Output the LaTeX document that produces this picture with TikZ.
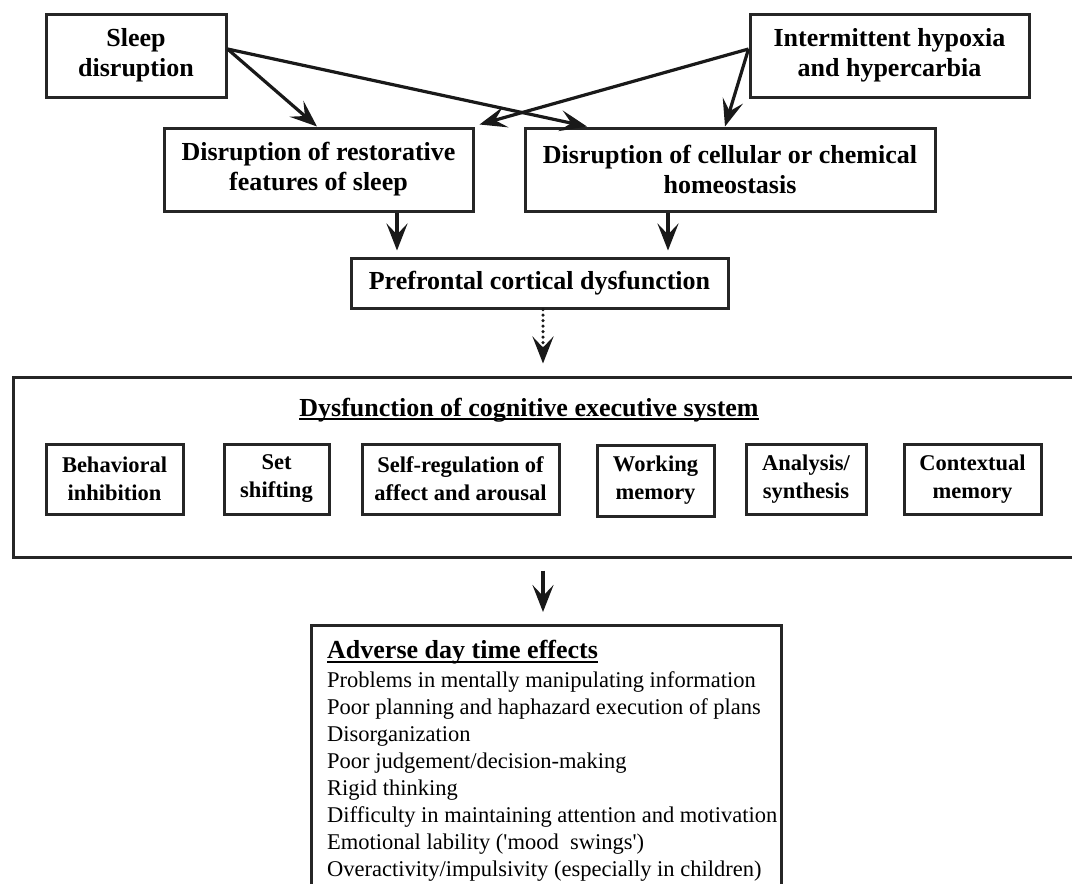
\documentclass[tikz,border=0pt]{standalone}
\usepackage{fontspec}
\setmainfont{Liberation Serif}
\usetikzlibrary{arrows.meta,calc}
\newcommand\myul[1]{\setbox0\hbox{#1}\rlap{\rule[-4pt]{\wd0}{1.8pt}}\box0}
\begin{document}
\begin{tikzpicture}[x=1pt,y=-1pt,
  box/.style={draw=black!85, line width=3pt, inner sep=0pt, align=center},
  topfont/.style={font=\fontsize{26}{30}\selectfont\bfseries},
  smallfont/.style={font=\fontsize{22.5}{28}\selectfont\bfseries},
  arr/.style={-{Stealth[length=27pt,width=21pt,inset=11pt]}, line width=3.2pt, draw=black!90},
  sbox/.style={box, smallfont, minimum height=70pt}]
\useasboundingbox (0,0) rectangle (1072,884);
\clip (0,0) rectangle (1072,884);
\fill[white] (0,0) rectangle (1072,884);

\node[box,topfont,minimum width=180pt,minimum height=83pt] (sleep) at (136,55.5) {Sleep\\disruption};
\node[box,topfont,minimum width=279pt,minimum height=83pt] (hyp) at (889.5,55.5) {Intermittent hypoxia\\and hypercarbia};
\node[box,topfont,minimum width=309pt,minimum height=83pt] (resto) at (318.5,169.5) {Disruption of restorative\\features of sleep};
\node[box,topfont,minimum width=410pt,minimum height=83pt] (cell) at (730,169.5) {Disruption of cellular or chemical\\homeostasis};
\node[box,topfont,minimum width=377pt,minimum height=50pt] (pfc) at (539.5,283) {Prefrontal cortical dysfunction};

\node[box,minimum width=1070pt,minimum height=180pt] (ces) at (548,467) {};
\node[topfont,inner sep=0pt] (cestitle) at (529,410) {\myul{Dysfunction of cognitive executive system}};
\node[sbox,minimum width=137pt] (beh) at (114.5,479) {Behavioral\\inhibition};
\node[sbox,minimum width=105pt] (set) at (276.5,479) {Set\\shifting};
\node[sbox,minimum width=197pt] (self) at (460.5,479) {Self-regulation of\\affect and arousal};
\node[sbox,minimum width=117pt,minimum height=71pt] (work) at (655.5,480.5) {Working\\memory};
\node[sbox,minimum width=120pt] (ana) at (806,479) {Analysis/\\synthesis};
\node[sbox,minimum width=137pt] (ctx) at (972.5,479) {Contextual\\memory};

\node[box,minimum width=470pt,minimum height=300pt,anchor=north west] (adv) at (310,624) {};
\node[anchor=north west,align=left,inner sep=0pt,font=\fontsize{22.5}{27}\selectfont] (advtext) at (327,640)
 {{\fontsize{26}{27}\selectfont\bfseries\myul{Adverse day time effects}}\\[2pt]
  Problems in mentally manipulating information\\
  Poor planning and haphazard execution of plans\\
  Disorganization\\
  Poor judgement/decision-making\\
  Rigid thinking\\
  Difficulty in maintaining attention and motivation\\
  Emotional lability (\textquotesingle mood\ \ swings\textquotesingle)\\
  Overactivity/impulsivity (especially in children)};

\draw[arr] (sleep.east |- 0,49) -- (resto.north -| 317,0);
\draw[arr] (sleep.east |- 0,49) -- (cell.north -| 587,0);
\draw[arr] (hyp.west |- 0,49) -- ($(resto.north east)+(5,-2)$);
\draw[arr] (hyp.west |- 0,49) -- (cell.north -| 725,0);
\draw[arr,shorten >=6pt] (resto.south -| 397,0) -- (pfc.north -| 397,0);
\draw[arr,shorten >=6pt] (cell.south -| 668,0) -- (pfc.north -| 668,0);
\draw[arr,line width=3.5pt,line cap=round,dash pattern=on 0pt off 5.5pt,shorten >=12pt] (pfc.south -| 543,0) -- (ces.north -| 543,0);
\draw[arr,shorten <=12pt,shorten >=12pt] (ces.south -| 543,0) -- (adv.north -| 543,0);
\end{tikzpicture}
\end{document}
